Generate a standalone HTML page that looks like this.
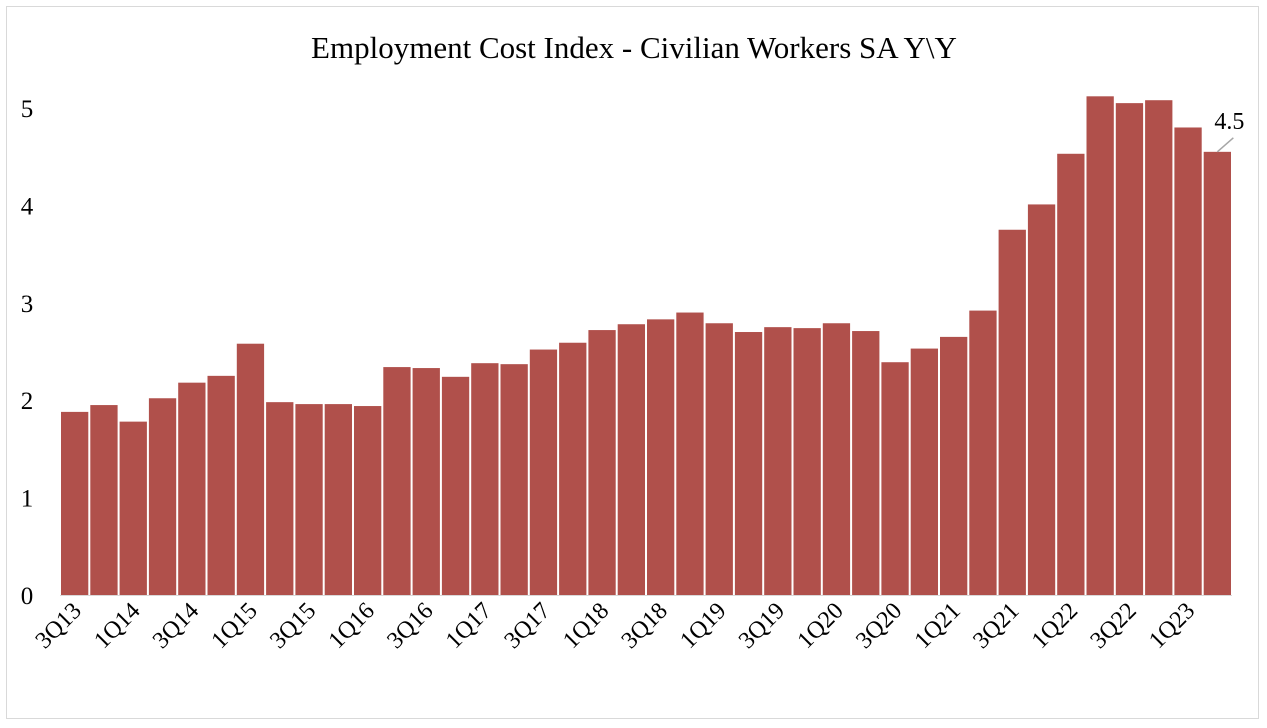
<!DOCTYPE html>
<html><head><meta charset="utf-8"><style>
body{margin:0;background:#fff;}
svg{display:block;font-family:"Liberation Serif",serif;}
</style></head><body>
<svg width="1267" height="728">
<rect x="6.5" y="6.5" width="1252" height="712" fill="#fff" stroke="#d9d9d9"/>
<text x="634" y="58" text-anchor="middle" font-size="31" fill="#000">Employment Cost Index -  Civilian Workers SA Y\Y</text>
<g id="yaxis"></g>
<g id="bars"></g>
<g id="xaxis"></g>
<line x1="60" y1="595.5" x2="1232" y2="595.5" stroke="#d9d9d9"/>
<line id="leader" stroke="#a6a6a6" stroke-width="1.5"/>
<text id="lastlbl" font-size="24" fill="#000"></text>
</svg>
<script>
const categories=["3Q13","4Q13","1Q14","2Q14","3Q14","4Q14","1Q15","2Q15","3Q15","4Q15","1Q16","2Q16","3Q16","4Q16","1Q17","2Q17","3Q17","4Q17","1Q18","2Q18","3Q18","4Q18","1Q19","2Q19","3Q19","4Q19","1Q20","2Q20","3Q20","4Q20","1Q21","2Q21","3Q21","4Q21","1Q22","2Q22","3Q22","4Q22","1Q23","2Q23"];
const values=[1.88,1.95,1.78,2.02,2.18,2.25,2.58,1.98,1.96,1.96,1.94,2.34,2.33,2.24,2.38,2.37,2.52,2.59,2.72,2.78,2.83,2.90,2.79,2.70,2.75,2.74,2.79,2.71,2.39,2.53,2.65,2.92,3.75,4.01,4.53,5.12,5.05,5.08,4.80,4.55];
const yTicks=[0,1,2,3,4,5];
const NS="http://www.w3.org/2000/svg";
const x0=60,x1=1232,yBase=595,yPer=97.4;
const bw=(x1-x0)/categories.length;
const y=v=>yBase-v*yPer;
const xs=i=>x0+i*bw;
const ya=document.getElementById('yaxis'),bg=document.getElementById('bars'),xa=document.getElementById('xaxis');
yTicks.forEach(t=>{const e=document.createElementNS(NS,'text');


e.setAttribute('x',27);e.setAttribute('y',y(t)+9);e.setAttribute('text-anchor','middle');e.setAttribute('font-size','25');e.textContent=t;ya.appendChild(e);});
values.forEach((v,i)=>{const r=document.createElementNS(NS,'rect');


r.setAttribute('x',xs(i)+1);r.setAttribute('width',bw-2);r.setAttribute('y',y(v));r.setAttribute('height',yBase-y(v));r.setAttribute('fill','#b0504b');bg.appendChild(r);
if(i%2===0){const t=document.createElementNS(NS,'text');


const cx=xs(i)+bw/2+8,cy=612;t.setAttribute('x',cx);t.setAttribute('y',cy);t.setAttribute('text-anchor','end');t.setAttribute('font-size','24');t.setAttribute('transform','rotate(-45 '+cx+' '+cy+')');t.textContent=categories[i];xa.appendChild(t);}});
const li=values.length-1,lv=values[li];
const lx=xs(li)+bw/2,ly=y(lv);
const L=document.getElementById('leader');L.setAttribute('x1',lx);L.setAttribute('y1',ly);L.setAttribute('x2',lx+16);L.setAttribute('y2',ly-14);
const T=document.getElementById('lastlbl');T.setAttribute('x',lx-3);T.setAttribute('y',ly-23);T.textContent=lv.toFixed(1);
</script>
</body></html>
